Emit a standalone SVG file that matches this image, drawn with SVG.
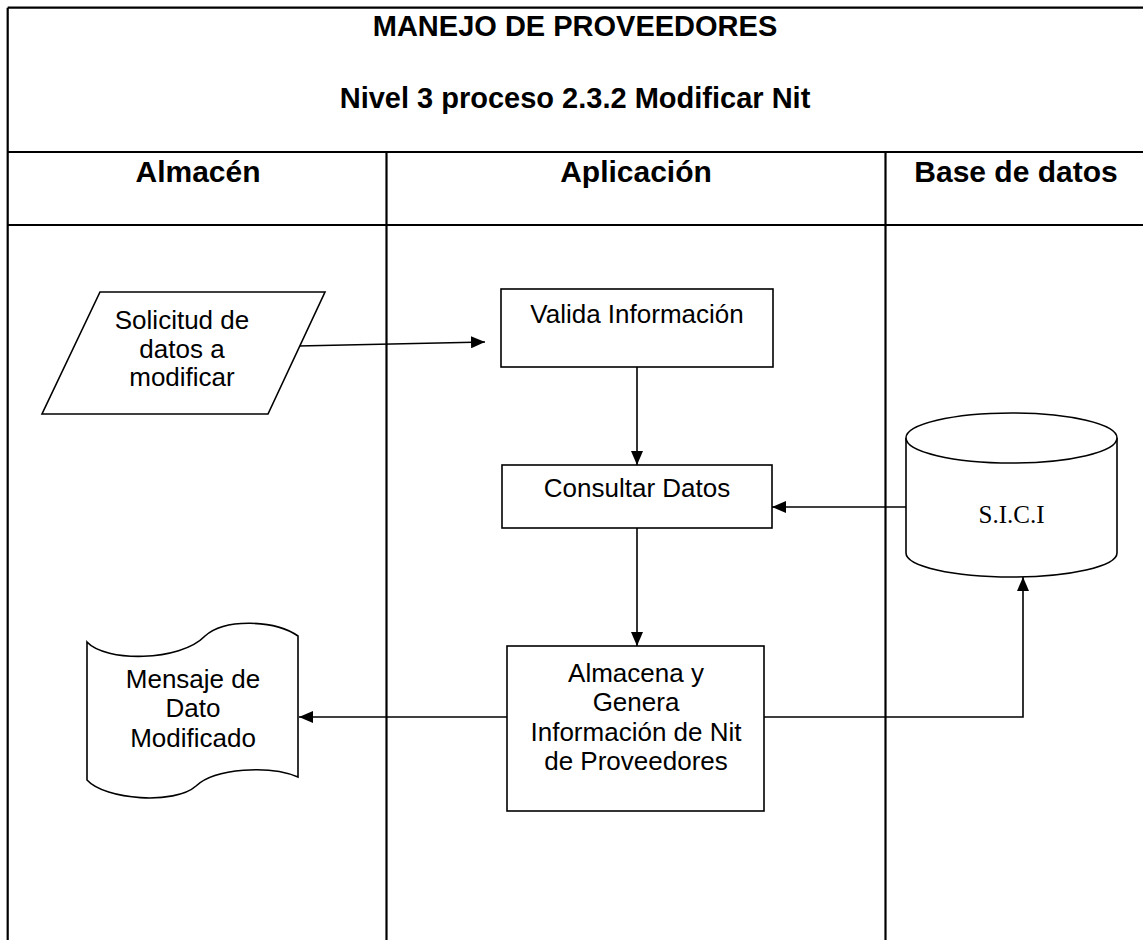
<svg xmlns="http://www.w3.org/2000/svg" width="1143" height="940" viewBox="0 0 1143 940">
<style>
.grid{stroke:#000;stroke-width:2.2;fill:none}
.shape{stroke:#000;stroke-width:1.6;fill:#fff}
.conn{stroke:#000;stroke-width:1.6;fill:none}
.hb{font-family:"Liberation Sans",Arial,sans-serif;font-weight:bold;font-size:29px;text-anchor:middle;fill:#000}
.hc{font-family:"Liberation Sans",Arial,sans-serif;font-weight:bold;font-size:30px;text-anchor:middle;fill:#000}
.t{font-family:"Liberation Sans",Arial,sans-serif;font-size:26px;text-anchor:middle;fill:#000}
.s{font-family:"Liberation Serif","Times New Roman",serif;font-size:25px;text-anchor:middle;fill:#000}
</style>
<defs>
<marker id="arr" viewBox="0 0 14 12" refX="14" refY="6" markerWidth="14" markerHeight="12" markerUnits="userSpaceOnUse" orient="auto">
<path d="M0,0 L14,6 L0,12 Z" fill="#000"/>
</marker>
</defs>
<rect width="1143" height="940" fill="#fff"/>
<g id="frame">
<line class="grid" x1="7.7" y1="7.7" x2="1143" y2="7.7"/>
<line class="grid" x1="7.7" y1="7.7" x2="7.7" y2="940"/>
<line class="grid" x1="7.7" y1="152" x2="1143" y2="152"/>
<line class="grid" x1="7.7" y1="225" x2="1143" y2="225"/>
<line class="grid" x1="386.5" y1="152" x2="386.5" y2="940"/>
<line class="grid" x1="885.5" y1="152" x2="885.5" y2="940"/>
<text class="hb" x="575" y="36">MANEJO DE PROVEEDORES</text>
<text class="hb" x="575" y="108">Nivel 3 proceso 2.3.2 Modificar Nit</text>
<text class="hc" x="198" y="182">Almacén</text>
<text class="hc" x="636" y="182">Aplicación</text>
<text class="hc" x="1016" y="182">Base de datos</text>
</g>
<g id="connectors">
<line class="conn" x1="298" y1="346" x2="485" y2="342" marker-end="url(#arr)"/>
<line class="conn" x1="637" y1="367" x2="637" y2="465" marker-end="url(#arr)"/>
<line class="conn" x1="906" y1="507" x2="772" y2="507" marker-end="url(#arr)"/>
<line class="conn" x1="637" y1="528" x2="637" y2="646" marker-end="url(#arr)"/>
<line class="conn" x1="507" y1="717" x2="299" y2="717" marker-end="url(#arr)"/>
<polyline class="conn" points="764,717 1023,717 1023,577" marker-end="url(#arr)"/>
</g>
<g id="solicitud">
<polygon class="shape" points="100,292 325,292 268,414 42,414"/>
<text class="t" x="182" y="329">Solicitud de</text>
<text class="t" x="182" y="358">datos a</text>
<text class="t" x="182" y="386">modificar</text>
</g>
<g id="valida">
<rect class="shape" x="501" y="289" width="272" height="78"/>
<text class="t" x="637" y="323">Valida Información</text>
</g>
<g id="consultar">
<rect class="shape" x="502" y="465" width="270" height="63"/>
<text class="t" x="637" y="497">Consultar Datos</text>
</g>
<g id="almacena">
<rect class="shape" x="507" y="646" width="257" height="165"/>
<text class="t" x="636" y="682">Almacena y</text>
<text class="t" x="636" y="711">Genera</text>
<text class="t" x="636" y="741">Información de Nit</text>
<text class="t" x="636" y="770">de Proveedores</text>
</g>
<g id="sici">
<path class="shape" d="M906,438 L906,553 A105.5,24 0 0 0 1117,553 L1117,438"/>
<ellipse class="shape" cx="1011.5" cy="438" rx="105.5" ry="25"/>
<text class="s" x="1011.5" y="523">S.I.C.I</text>
</g>
<g id="mensaje">
<path class="shape" d="M87,642 C105,662 180,662 205,636 C225,618 275,620 298,636 L298,777 C270,765 215,768 196,786 C175,805 105,800 87,780 Z"/>
<text class="t" x="193" y="688">Mensaje de</text>
<text class="t" x="193" y="717">Dato</text>
<text class="t" x="193" y="747">Modificado</text>
</g>
</svg>
